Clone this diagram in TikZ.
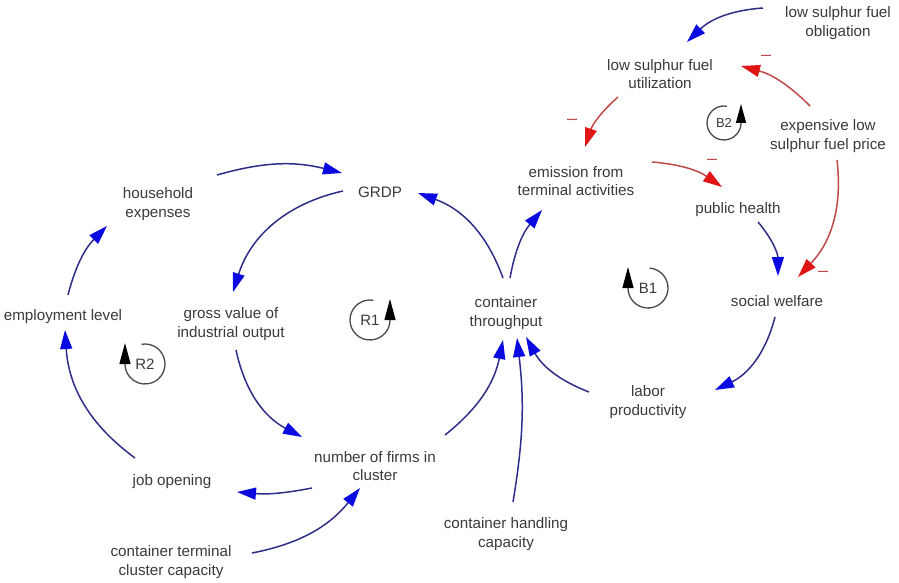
\documentclass[tikz,border=0pt]{standalone}
\usepackage{fontspec}
\setmainfont{Liberation Sans}
\usetikzlibrary{arrows.meta,calc}

\definecolor{txt}{HTML}{3A3A3A}
\definecolor{linkblue}{HTML}{2E2E88}
\definecolor{headblue}{HTML}{0A0AE0}
\definecolor{linkred}{HTML}{C04A4A}
\definecolor{headred}{HTML}{E01515}
\definecolor{loopgray}{HTML}{4A4A4A}

\tikzset{
  varnode/.style={text=txt, align=center, inner sep=0pt,
    font=\fontsize{15.2}{18.5}\selectfont},
  poslink/.style={draw=linkblue, line width=1.5pt,
    -{Triangle[length=19pt,width=12pt,color=headblue]}},
  neglink/.style={draw=linkred, line width=1.5pt,
    -{Triangle[length=19pt,width=12pt,color=headred]}},
  minussign/.style={text=linkred, inner sep=0pt,
    font=\fontsize{18}{18}\selectfont},
  looplabel/.style={text=txt, inner sep=0pt,
    font=\fontsize{15}{15}\selectfont},
  loopline/.style={draw=loopgray, line width=1.3pt,
    -{Triangle[length=21pt,width=11pt,color=black]}}
}

\begin{document}
\begin{tikzpicture}[x=1pt,y=1pt]
\useasboundingbox (0,0) rectangle (899,-583);

% variables
\node[varnode] (obl)     at (838,-23)  {low sulphur fuel\\obligation};
\node[varnode] (util)    at (660,-74)  {low sulphur fuel\\utilization};
\node[varnode] (price)   at (828,-136) {expensive low\\sulphur fuel price};
\node[varnode] (emis)    at (576,-181) {emission from\\terminal activities};
\node[varnode] (health)  at (738,-210) {public health};
\node[varnode] (welfare) at (777,-301) {social welfare};
\node[varnode] (grdp)    at (380,-192) {GRDP};
\node[varnode] (house)   at (158,-204) {household\\expenses};
\node[varnode] (gross)   at (231,-324) {gross value of\\industrial output};
\node[varnode] (employ)  at (63,-317)  {employment level};
\node[varnode] (thru)    at (506,-313) {container\\throughput};
\node[varnode] (labor)   at (648,-402) {labor\\productivity};
\node[varnode] (firms)   at (375,-466) {number of firms in\\cluster};
\node[varnode] (job)     at (172,-482) {job opening};
\node[varnode] (cap)     at (171,-562) {container terminal\\cluster capacity};
\node[varnode] (handl)   at (506,-534) {container handling\\capacity};

% causal links
\draw[poslink] ($(obl)+(-75,15)$)    to[bend right=20] ($(util)+(27,32)$);
\draw[neglink] ($(price)+(-18,30)$)  to[bend right=15] ($(util)+(81,8)$);
\draw[neglink] ($(price)+(9,-24)$)   to[bend left=25]  ($(welfare)+(21,24)$);
\draw[neglink] ($(util)+(-42,-23)$)  to[bend right=15] ($(emis)+(9,34)$);
\draw[neglink] ($(emis)+(76,19)$)    to[bend left=15]  ($(health)+(-16,23)$);
\draw[poslink] ($(health)+(20,-12)$) to[bend left=20]  ($(welfare)+(1,25)$);
\draw[poslink] ($(welfare)+(-2,-16)$) to[bend left=25] ($(labor)+(67,12)$);
\draw[poslink] ($(labor)+(-59,10)$)  to[bend left=20]  ($(thru)+(20,-24)$);
\draw[poslink] ($(handl)+(7,32)$)    to[bend right=8]  ($(thru)+(11,-25)$);
\draw[poslink] ($(firms)+(70,31)$)   to[bend right=20] ($(thru)+(-3,-27)$);
\draw[poslink] ($(thru)+(-3,35)$)    to[bend right=25] ($(grdp)+(38,-1)$);
\draw[poslink] ($(thru)+(4,35)$)     to[bend left=15]  ($(emis)+(-34,-29)$);
\draw[poslink] ($(grdp)+(-37,1)$)    to[bend right=30] ($(gross)+(2,32)$);
\draw[poslink] ($(house)+(59,29)$)   to[bend left=15]  ($(grdp)+(-38,19)$);
\draw[poslink] ($(gross)+(5,-26)$)   to[bend right=25] ($(firms)+(-73,29)$);
\draw[poslink] ($(employ)+(5,22)$)   to[bend left=15]  ($(house)+(-51,-22)$);
\draw[poslink] ($(job)+(-37,24)$)    to[bend left=25]  ($(employ)+(2,-13)$);
\draw[poslink] ($(firms)+(-63,-22)$) to[bend left=8]   ($(job)+(65,-10)$);
\draw[poslink] ($(cap)+(81,9)$)      to[bend right=20] ($(firms)+(-15,-22)$);

% polarity marks
\node[minussign] (m1) at (766,-58)  {–};
\node[minussign] (m2) at (572,-122) {–};
\node[minussign] (m3) at (712,-162) {–};
\node[minussign] (m4) at (823,-274) {–};

% loop identifiers
\node[looplabel] (r1) at (370,-320) {R1};
\draw[loopline] ($(r1)+(80:20)$) arc[start angle=80, end angle=360, radius=20] -- ++(0,21);
\node[looplabel] (r2) at (145,-364) {R2};
\draw[loopline] ($(r2)+(100:20)$) arc[start angle=100, end angle=-180, radius=20] -- ++(0,21);
\node[looplabel] (b1) at (648,-288) {B1};
\draw[loopline] ($(b1)+(85:20)$) arc[start angle=85, end angle=-180, radius=20] -- ++(0,21);
\node[looplabel, font=\fontsize{13}{13}\selectfont] (b2) at (724,-123) {B2};
\draw[loopline, -{Triangle[length=19pt,width=10pt,color=black]}]
  ($(b2)+(80:17)$) arc[start angle=80, end angle=360, radius=17] -- ++(0,19);
\end{tikzpicture}
\end{document}
